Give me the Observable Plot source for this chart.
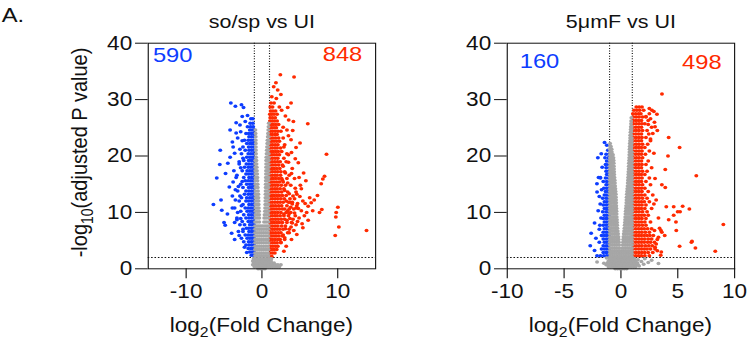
<!DOCTYPE html>
<html><head><meta charset="utf-8">
<script src="https://cdn.jsdelivr.net/npm/d3@7"></script>
<script src="https://cdn.jsdelivr.net/npm/@observablehq/plot@0.6"></script>
<style>
html,body{margin:0;padding:0;background:#fff;overflow:hidden;width:747px;height:346px;}
#wrap{position:absolute;left:0;top:0;width:661px;height:346px;transform:scaleX(1.13);transform-origin:0 0;}
</style></head><body><div id="wrap"></div>
<script>
// ---------- data ----------
const titles = ["so/sp vs UI", "5\u03bcmF vs UI"];
const soCounts = [590, 848];
const fmCounts = [160, 498];
const soTicksX = [-10, 0, 10];
const fmTicksX = [-10, -5, 0, 5, 10];
const ticksY = [0, 10, 20, 30, 40];
const soDomainX = [-15, 15];
const fmDomainX = [-10, 10];
const domainY = [0, 40];
const fcCut = [-1, 1];
const pCut = [2];

// rows: [y, x1, x2, ...]   pts: [x, y]
const soRedRows = [
[2.2,1.05,1.3],[2.8,1.1,1.4,1.7],[3.4,1.05,1.3,1.6,1.95],[4.0,1.15,1.45,1.8,2.1],
[4.6,1.05,1.35,1.65,2.0,2.5],[5.2,1.1,1.4,1.75,2.1,2.4,3.0],[5.8,1.05,1.3,1.6,1.9,2.25,2.7],
[6.4,1.15,1.45,1.8,2.15,2.5,3.4],[7.0,1.05,1.35,1.65,2.0,2.35,2.8,3.6],[7.6,1.1,1.4,1.75,2.1,2.6,3.1],
[8.2,1.05,1.3,1.6,1.95,2.3,2.7,3.3,3.9],[8.8,1.15,1.45,1.8,2.15,2.55,3.0,4.1],
[9.4,1.05,1.35,1.7,2.0,2.4,2.9,3.5,4.4],[10.0,1.1,1.4,1.75,2.1,2.5,3.2,3.8],
[10.6,1.05,1.3,1.6,1.95,2.3,2.7,3.0,3.6,4.2],[11.2,1.15,1.45,1.8,2.2,2.6,3.3,4.6],
[11.8,1.05,1.35,1.7,2.05,2.4,2.8,3.5,4.0],[12.4,1.1,1.4,1.75,2.1,2.5,2.95,3.7,4.3],
[13.0,1.05,1.3,1.6,1.95,2.3,2.7,3.2],[13.6,1.15,1.45,1.8,2.15,2.6,3.4,4.5],
[14.2,1.05,1.35,1.7,2.0,2.4,2.9],[14.8,1.1,1.4,1.75,2.1,2.55,3.1,3.8],
[15.4,1.05,1.3,1.6,1.95,2.3,2.8],[16.0,1.15,1.45,1.8,2.2,2.6,3.3],
[16.6,1.05,1.35,1.7,2.0,2.45,3.6],[17.2,1.1,1.4,1.75,2.1,2.5,3.0],
[17.8,1.05,1.3,1.6,1.95,2.35,4.0],[18.4,1.15,1.45,1.8,2.2,2.7],
[19.0,1.05,1.35,1.7,2.05,2.4,3.2],[19.6,1.1,1.4,1.75,2.1,2.9],
[20.2,1.05,1.3,1.6,1.95,2.3,3.5],[20.8,1.15,1.45,1.8,2.15,2.6],
[21.4,1.05,1.35,1.7,2.0,2.45],[22.0,1.1,1.4,1.75,2.1,3.0],
[22.6,1.05,1.3,1.6,1.95,2.3],[23.2,1.15,1.45,1.8,2.2,2.8],
[23.8,1.05,1.35,1.7,2.0],[24.4,1.1,1.4,1.75,2.1,2.5],
[25.0,1.05,1.3,1.6,1.9],[25.6,1.15,1.45,1.8,2.2],[26.2,1.05,1.35,1.65,2.0],
[26.8,1.1,1.4,1.75],[27.4,1.05,1.3,1.6,2.0],[28.0,1.15,1.45,1.8],[28.7,1.1,1.4,2.3],[29.4,1.2,1.6]
];
const soRedPts = [
[2.43,34.4],[4.24,34.0],[1.85,33.0],[1.55,32.3],[2.08,31.7],[2.5,30.9],[1.3,30.5],[1.9,30.2],
[3.84,29.4],[3.4,28.6],[3.53,26.4],[4.15,26.1],[6.05,25.7],[3.3,24.6],[4.06,24.5],[3.84,22.9],
[5.03,22.3],[4.5,21.5],[8.52,20.3],[8.26,16.4],[8.04,15.9],[7.82,15.1],[5.07,14.8],[5.2,14.2],
[7.33,13.0],[6.3,12.6],[6.5,11.7],[6.1,11.1],[10.02,10.9],[7.9,10.5],[5.2,10.3],[6.7,10.3],
[7.6,10.0],[9.8,10.0],[5.6,9.4],[9.75,9.2],[4.7,8.4],[4.5,7.8],[3.84,7.4],[10.15,7.4],
[13.8,6.8],[3.6,6.4],[9.67,5.9],[3.0,5.5],[2.5,4.7],
[4.8,18.8],[5.5,17.0],[4.3,16.0],[5.8,15.6],[4.6,13.2],[5.4,12.0],[4.0,11.5],[3.6,9.8],
[4.9,9.0],[3.3,8.6],[5.3,8.0],[4.2,6.8],[3.2,4.0],[2.9,3.1],[4.4,19.5],[3.9,20.6],[4.7,11.6],[6.9,12.2],
[2.8,18.2],[3.1,17.0],[2.7,15.7],[3.4,15.2],[3.0,13.9],[3.6,13.3],[3.2,12.0],[4.1,12.9],
[3.8,10.9],[3.4,10.3],[4.3,9.9],[2.9,9.7],[3.7,8.9],[4.0,8.1],[3.1,7.1],[2.8,6.0],
[4.9,16.2],[4.4,14.3],[5.0,12.8],[5.7,11.6],[4.8,10.7],[5.9,10.0],[6.1,8.6],[5.4,7.3],
[4.6,6.1],[3.9,5.2],[3.5,18.9],[3.9,16.9],[3.3,20.4],[2.9,21.6],[3.5,23.6],[2.8,25.1],
[3.1,27.1],[2.6,28.1],[3.7,11.8],[4.5,10.8]
];
const soBlueRows = [
[2.4,-1.1,-1.4],[3.0,-1.05,-1.3,-1.6],[3.6,-1.15,-1.45,-1.8],[4.2,-1.05,-1.35,-1.7,-2.1],
[4.8,-1.1,-1.4,-1.75,-2.4],[5.4,-1.05,-1.3,-1.6,-1.95,-2.7],[6.0,-1.15,-1.45,-1.8,-2.2],
[6.6,-1.05,-1.35,-1.7,-2.5,-3.1],[7.2,-1.1,-1.4,-1.75,-2.05],[7.8,-1.05,-1.3,-1.6,-2.3,-2.9],
[8.4,-1.15,-1.45,-1.8,-2.6],[9.0,-1.05,-1.35,-1.7,-2.1,-3.3],[9.6,-1.1,-1.4,-1.75,-2.4],
[10.2,-1.05,-1.3,-1.6,-1.95,-2.8],[10.8,-1.15,-1.45,-1.8,-2.2,-3.6],[11.4,-1.05,-1.35,-1.7,-2.5],
[12.0,-1.1,-1.4,-1.75,-2.1,-3.0],[12.6,-1.05,-1.3,-1.6,-2.0,-2.7],[13.2,-1.15,-1.45,-1.8,-2.3],
[13.8,-1.05,-1.35,-1.7,-2.1,-3.2],[14.4,-1.1,-1.4,-1.75,-2.5],[15.0,-1.05,-1.3,-1.6,-2.0,-2.8],
[15.6,-1.15,-1.45,-1.8,-2.2],[16.2,-1.05,-1.35,-1.7,-2.4,-3.4],[16.8,-1.1,-1.4,-1.75,-2.1],
[17.4,-1.05,-1.3,-1.6,-1.95,-2.6],[18.0,-1.15,-1.45,-1.8,-2.3],[18.6,-1.05,-1.35,-1.7,-2.05,-3.0],
[19.2,-1.1,-1.4,-1.75,-2.4],[19.8,-1.05,-1.3,-1.6,-2.0],[20.4,-1.15,-1.45,-1.8,-2.7],
[21.0,-1.05,-1.35,-1.7,-2.2],[21.6,-1.1,-1.4,-1.75,-2.5],[22.2,-1.05,-1.3,-1.6,-2.0],
[22.8,-1.15,-1.45,-1.8,-2.3],[23.4,-1.05,-1.35,-1.7],[24.0,-1.1,-1.4,-1.75,-2.1],
[24.6,-1.05,-1.3,-1.6],[25.2,-1.15,-1.5,-1.9],[25.8,-1.2,-1.55],[26.6,-1.2,-1.45]
];
const soBluePts = [
[-4.1,29.4],[-3.5,28.8],[-2.7,29.1],[-2.43,28.6],[-4.2,24.6],[-3.4,25.9],[-2.9,25.5],[-5.5,21.0],
[-5.56,18.5],[-5.96,16.1],[-6.4,11.4],[-5.4,12.2],[-5.3,10.4],[-5.0,8.2],[-4.85,7.7],[-4.55,9.7],
[-4.8,16.9],[-3.7,17.4],[-3.9,22.5],[-3.8,21.6],[-4.3,14.5],[-3.9,12.9],[-4.2,19.8],[-3.6,20.5],
[-3.2,23.2],[-2.8,24.3],[-4.0,6.3],[-3.6,5.2],[-3.3,8.7],[-3.9,10.8],[-3.5,14.0],[-3.0,19.0],[-2.6,27.0],
[-2.6,22.7],[-2.9,21.2],[-2.5,19.6],[-2.8,17.9],[-3.3,16.6],[-2.6,15.5],[-3.1,14.6],[-2.9,12.9],
[-3.5,12.2],[-2.7,11.2],[-3.2,10.0],[-2.8,8.9],[-3.6,8.2],[-2.5,7.0],[-3.0,5.9],[-2.3,3.8],
[-2.0,2.9],[-3.8,15.4],[-4.5,18.7],[-3.4,24.1],[-2.2,26.1],[-1.9,27.2]
];
const soGrayRows = [
[0.0,-0.5,-0.2,0.1,0.4],
[0.35,-1.0,-0.7,-0.4,-0.1,0.2,0.5,0.8,1.1,1.4,1.7,2.0,2.3],
[0.7,-1.2,-0.9,-0.6,-0.3,0,0.3,0.6,0.9,1.2,1.5,1.8,2.1,2.5],
[1.05,-1.1,-0.8,-0.5,-0.2,0.1,0.4,0.7,1.0,1.3,1.6],
[1.4,-1.2,-0.9,-0.6,-0.3,0,0.3,0.6,0.9,1.2],
[1.8,-1.1,-0.8,-0.5,-0.2,0.1,0.4,0.7,1.0,1.25],
[2.3,-0.9,-0.62,-0.34,-0.05,0.25,0.55,0.85],
[2.8,-0.9,-0.65,-0.38,-0.1,0.2,0.5,0.8],
[3.4,-0.9,-0.62,-0.34,-0.05,0.25,0.55,0.85],
[4.0,-0.9,-0.65,-0.38,-0.1,0.2,0.5,0.8],
[4.6,-0.9,-0.62,-0.34,-0.05,0.25,0.55,0.85],
[5.2,-0.9,-0.65,-0.38,-0.1,0.2,0.5,0.8],
[5.8,-0.9,-0.62,-0.34,-0.05,0.25,0.55,0.85],
[6.4,-0.9,-0.65,-0.38,-0.1,0.2,0.5,0.8],
[7.0,-0.9,-0.62,-0.34,-0.05,0.25,0.55,0.85],
[7.6,-0.9,-0.65,-0.4,-0.15,0.12,0.4,0.65,0.87],
[8.3,-0.9,-0.65,-0.35,0.28,0.55,0.85],
[9.0,-0.85,-0.6,-0.35,0.3,0.55,0.85],
[9.6,-0.85,-0.6,-0.37,0.35,0.6,0.85],
[10.2,-0.85,-0.6,-0.38,0.4,0.62,0.85],
[10.8,-0.85,-0.62,-0.41,0.42,0.64,0.85],
[11.4,-0.85,-0.63,-0.43,0.44,0.65,0.85],
[12.0,-0.85,-0.64,-0.44,0.45,0.66,0.85],
[12.6,-0.85,-0.66,-0.46,0.46,0.66,0.85],
[13.2,-0.85,-0.67,-0.47,0.47,0.67,0.85],
[13.8,-0.85,-0.52,0.48,0.68,0.86],
[14.4,-0.85,-0.55,0.49,0.68,0.86],
[15.0,-0.86,-0.57,0.5,0.7,0.87],
[15.6,-0.86,-0.59,0.51,0.7,0.87],
[16.2,-0.86,-0.6,0.52,0.72,0.87],
[16.8,-0.86,-0.63,0.53,0.72,0.88],
[17.4,-0.87,-0.66,0.54,0.74,0.88],
[18.0,-0.87,-0.68,0.55,0.75,0.89],
[18.6,-0.88,-0.71,0.56,0.76,0.89],
[19.2,-0.88,-0.73,0.56,0.77,0.9],
[19.8,-0.77,0.58,0.78,0.9],
[20.4,-0.78,0.61,0.8,0.9],
[21.0,-0.79,0.64,0.82],
[21.6,-0.8,0.67,0.84],
[22.2,-0.8,0.7,0.86],
[22.8,-0.81,0.73,0.88],
[23.4,-0.82,0.77,0.9],
[24.0,-0.84,0.8],
[24.6,-0.86,0.84],
[25.2,0.87],[25.8,0.9]
];

const fmRedRows = [
[2.3,1.05,1.3,1.55,1.8,2.1,2.5],[2.9,1.1,1.35,1.6,1.85,2.1,2.4,2.8],
[3.5,1.05,1.3,1.55,1.8,2.05,2.3,2.6,3.0],[4.1,1.1,1.35,1.6,1.85,2.15,2.45,2.75],
[4.7,1.05,1.3,1.55,1.8,2.05,2.35,2.6,2.95],[5.3,1.1,1.35,1.6,1.85,2.1,2.4,2.7],
[5.9,1.05,1.3,1.55,1.8,2.05,2.3,2.55,2.85],[6.5,1.1,1.35,1.6,1.85,2.15,2.5],
[7.1,1.05,1.3,1.55,1.8,2.05,2.35,2.7],[7.7,1.1,1.35,1.6,1.9,2.2],
[8.3,1.05,1.3,1.55,1.8,2.1,2.6],[8.9,1.1,1.35,1.6,1.85,2.2],
[9.5,1.05,1.3,1.55,1.8,2.05,2.4],[10.1,1.1,1.35,1.6,1.9,2.3],
[10.7,1.05,1.3,1.55,1.8,2.1,2.7],[11.3,1.1,1.35,1.6,1.85,2.2],
[11.9,1.05,1.3,1.55,1.8,2.05,2.5],[12.5,1.1,1.35,1.6,1.9,2.3],
[13.1,1.05,1.3,1.55,1.8,2.1,2.8],[13.7,1.1,1.35,1.6,1.85,2.4],
[14.3,1.05,1.3,1.55,1.8,2.1],[14.9,1.1,1.35,1.6,1.9,2.6],
[15.5,1.05,1.3,1.55,1.8,2.2],[16.1,1.1,1.35,1.6,1.85,2.5],
[16.7,1.05,1.3,1.55,1.8,2.1],[17.3,1.1,1.35,1.6,1.9,2.3],
[17.9,1.05,1.3,1.55,1.8,2.7],[18.5,1.1,1.35,1.6,1.85,2.2],
[19.1,1.05,1.3,1.55,1.8,2.4],[19.7,1.1,1.35,1.6,1.9],
[20.3,1.05,1.3,1.55,1.8,2.15],[20.9,1.1,1.35,1.6,1.85,2.5],
[21.5,1.05,1.3,1.55,1.8,2.1],[22.1,1.1,1.35,1.6,1.9,2.35],
[22.7,1.05,1.3,1.55,1.8,2.6],[23.3,1.1,1.35,1.6,1.85,2.2],
[23.9,1.05,1.3,1.55,1.8,2.45],[24.5,1.1,1.35,1.6,1.9,2.3],
[25.1,1.05,1.3,1.55,1.8,2.7],[25.7,1.1,1.35,1.6,1.85,2.1],
[26.3,1.05,1.3,1.55,1.8,2.4],[26.9,1.1,1.35,1.6,1.9,2.2],
[27.5,1.05,1.3,1.55,1.75,2.5],[28.1,1.15,1.4,1.65,2.0],[28.7,1.35,1.6,1.85]
];
const fmRedPts = [
[3.61,31.0],[2.73,28.1],[3.17,27.4],[4.2,23.3],[5.16,21.5],[4.14,20.0],[3.9,17.6],[6.63,16.5],
[3.6,14.9],[3.9,14.4],[3.1,12.2],[3.99,11.0],[4.64,11.0],[5.43,11.1],[6.02,10.6],[5.2,10.1],
[4.99,10.1],[4.64,9.5],[4.2,8.7],[4.84,8.3],[9.01,7.85],[3.85,5.9],[5.16,4.0],[6.2,4.7],
[6.55,3.7],[8.3,3.1],[3.55,3.0],[3.3,9.0],[3.0,16.0],[2.9,20.5],[3.2,24.5],[2.95,26.0],
[3.4,7.2],[3.6,6.5],[2.9,11.5],[3.2,5.2],[3.0,3.8],[3.5,2.4],[4.87,6.8],[3.52,6.8],[6.25,4.9],
[2.5,28.4],[2.9,27.9],[2.6,26.6],[3.0,25.2],[2.8,24.0],[2.6,23.0],[2.2,27.0],[2.4,25.6],
[3.1,4.4],[3.3,5.6],[2.95,6.8],[3.2,3.2]
];
const fmBlueRows = [
[2.3,-1.05,-1.25,-1.5,-1.8,-2.1],[2.9,-1.1,-1.3,-1.55],[3.5,-1.05,-1.25,-1.45,-1.7],
[4.1,-1.1,-1.3,-1.55],[4.7,-1.05,-1.25,-1.45,-1.9],[5.3,-1.1,-1.3,-1.55],
[5.9,-1.05,-1.25,-1.45,-1.7],[6.5,-1.1,-1.3,-1.55],[7.1,-1.05,-1.25,-1.45],
[7.7,-1.1,-1.3,-1.55,-1.85],[8.3,-1.05,-1.25,-1.45],[8.9,-1.1,-1.3,-1.55],
[9.5,-1.05,-1.25,-1.45],[10.1,-1.1,-1.3,-1.6],[10.7,-1.05,-1.25,-1.45],
[11.3,-1.1,-1.3,-1.55],[11.9,-1.05,-1.25,-1.45],[12.5,-1.1,-1.3,-1.6],
[13.1,-1.05,-1.25,-1.45],[13.7,-1.1,-1.35],[14.3,-1.05,-1.25,-1.5],[14.9,-1.1,-1.3],
[15.5,-1.05,-1.25,-1.55],[16.1,-1.1,-1.35,-1.8],[16.7,-1.05,-1.25],[17.3,-1.1,-1.3],
[17.9,-1.05,-1.3],[18.5,-1.1,-1.35],[19.1,-1.05,-1.25],[19.7,-1.1,-1.4],[20.3,-1.05,-1.3],[21.0,-1.15]
];
const fmBluePts = [
[-1.44,22.4],[-1.24,21.9],[-2.03,19.7],[-1.73,20.4],[-1.97,16.2],[-1.82,16.2],[-2.11,15.1],
[-1.82,11.5],[-2.32,8.1],[-2.62,6.3],[-2.7,4.1],[-2.32,3.26],[-1.9,12.8],[-2.0,10.3],
[-1.75,9.0],[-2.2,5.4],[-1.9,7.0],[-1.7,14.0],[-1.65,18.0],[-2.1,13.6]
];
const fmGrayRows = [
[0.0,-0.5,-0.3,-0.1,0.1,0.3,0.5],
[0.35,-1.1,-0.9,-0.7,-0.5,-0.3,-0.1,0.1,0.3,0.5,0.7,0.9,1.1,1.3],
[0.7,-1.3,-1.1,-0.9,-0.7,-0.5,-0.3,-0.1,0.1,0.3,0.5,0.7,0.9,1.1,1.3,1.5],
[1.05,-1.2,-1.0,-0.8,-0.6,-0.4,-0.2,0,0.2,0.4,0.6,0.8,1.0,1.2,1.45],
[1.4,-1.1,-0.9,-0.7,-0.5,-0.3,-0.1,0.1,0.3,0.5,0.7,0.9,1.1,1.3],
[1.8,-1.0,-0.8,-0.6,-0.4,-0.2,0,0.2,0.4,0.6,0.8,1.0,1.2],
[2.2,-0.95,-0.75,-0.55,-0.35,-0.15,0.05,0.25,0.45,0.65,0.85,0.97],
[2.7,-0.97,-0.77,-0.57,-0.37,-0.17,0.03,0.23,0.43,0.63,0.83,0.97],
[3.2,-0.97,-0.77,-0.57,-0.37,-0.17,0.03,0.23,0.43,0.63,0.83,0.97],
[3.7,-0.97,-0.77,-0.57,-0.37,-0.15,0.15,0.37,0.57,0.77,0.97],
[4.2,-0.97,-0.77,-0.57,-0.37,-0.16,0.16,0.36,0.56,0.76,0.97],
[4.7,-0.97,-0.77,-0.57,-0.37,-0.18,0.18,0.38,0.58,0.78,0.97],
[5.2,-0.97,-0.77,-0.57,-0.37,-0.2,0.2,0.4,0.6,0.8,0.97],
[5.7,-0.97,-0.77,-0.57,-0.38,-0.22,0.22,0.4,0.6,0.8,0.97],
[6.2,-0.97,-0.77,-0.57,-0.4,-0.25,0.25,0.42,0.6,0.8,0.97],
[6.7,-0.97,-0.77,-0.57,-0.42,-0.28,0.28,0.45,0.62,0.8,0.97],
[7.2,-0.97,-0.8,-0.62,-0.45,-0.31,0.31,0.47,0.64,0.8,0.97],
[7.7,-0.97,-0.8,-0.62,-0.46,-0.33,0.33,0.5,0.66,0.82,0.97],
[8.2,-0.97,-0.8,-0.63,-0.47,-0.34,0.35,0.5,0.66,0.82,0.97],
[8.7,-0.97,-0.8,-0.63,-0.48,-0.35,0.37,0.52,0.67,0.82,0.97],
[9.2,-0.97,-0.8,-0.64,-0.5,-0.37,0.38,0.53,0.68,0.83,0.97],
[9.7,-0.97,-0.8,-0.64,-0.5,-0.38,0.4,0.55,0.7,0.84,0.97],
[10.2,-0.97,-0.81,-0.65,-0.5,-0.39,0.42,0.56,0.7,0.84,0.97],
[10.7,-0.97,-0.81,-0.65,-0.52,-0.4,0.44,0.58,0.72,0.85,0.97],
[11.2,-0.97,-0.82,-0.67,-0.53,-0.41,0.46,0.6,0.73,0.86,0.97],
[11.7,-0.97,-0.82,-0.67,-0.53,-0.42,0.48,0.61,0.74,0.86,0.97],
[12.2,-0.97,-0.82,-0.68,-0.55,-0.43,0.49,0.62,0.75,0.87,0.97],
[12.7,-0.97,-0.83,-0.69,-0.56,-0.44,0.5,0.63,0.75,0.87,0.97],
[13.2,-0.97,-0.83,-0.69,-0.56,-0.45,0.52,0.64,0.76,0.88,0.97],
[13.7,-0.97,-0.83,-0.7,-0.57,-0.47,0.54,0.66,0.78,0.88,0.97],
[14.2,-0.97,-0.84,-0.7,-0.58,-0.49,0.56,0.67,0.78,0.89,0.97],
[14.7,-0.97,-0.84,-0.71,-0.59,-0.51,0.58,0.69,0.79,0.89,0.97],
[15.2,-0.97,-0.84,-0.72,-0.6,-0.53,0.6,0.7,0.8,0.9,0.97],
[15.7,-0.97,-0.84,-0.7,-0.55,0.62,0.74,0.86,0.97],
[16.2,-0.97,-0.85,-0.71,-0.57,0.63,0.75,0.87,0.97],
[16.7,-0.97,-0.85,-0.72,-0.59,0.65,0.76,0.87,0.97],
[17.2,-0.97,-0.85,-0.73,-0.6,0.66,0.77,0.88,0.97],
[17.7,-0.97,-0.86,-0.74,-0.61,0.68,0.78,0.88,0.97],
[18.2,-0.97,-0.86,-0.75,-0.62,0.69,0.79,0.89,0.97],
[18.7,-0.97,-0.86,-0.75,-0.63,0.7,0.8,0.89,0.97],
[19.2,-0.97,-0.87,-0.76,-0.64,0.72,0.81,0.9,0.97],
[19.7,-0.97,-0.87,-0.77,-0.66,0.73,0.82,0.9,0.97],
[20.2,-0.97,-0.87,-0.78,-0.7,0.74,0.83,0.91,0.97],
[20.7,-0.97,-0.88,-0.8,0.75,0.84,0.92,0.97],
[21.2,-0.97,-0.88,-0.82,0.76,0.85,0.92],
[21.7,-0.96,-0.88,0.77,0.86,0.94],
[22.2,-0.95,0.78,0.87,0.95],
[22.7,0.8,0.88,0.95],[23.2,0.81,0.89,0.96],[23.7,0.82,0.9],[24.2,0.84,0.92],
[24.7,0.86,0.93],[25.2,0.87,0.94],[25.7,0.89],[26.2,0.9],[26.8,0.92]
];
const fmGrayPts = [
[-2.1,1.2],[-1.25,1.9],[-1.5,1.0],[1.5,1.6],[1.8,1.3],[2.1,1.8],[2.4,1.1],[2.7,1.5],
[3.3,0.95],[1.6,0.5],[2.0,0.8]
];

// ---------- drawing ----------
const RED = "#ff2a00", BLUE = "#0d3dff", GRAY = "#a6a6a6";
const FONT = "'Liberation Sans', Arial, Helvetica, sans-serif";
const fromRows = rows => rows.flatMap(([y, ...xs]) => xs.map(x => ({x, y})));
const fromPairs = p => p.map(([x, y]) => ({x, y}));

function panel(o) {
  const dotOpts = (fill) => ({x: "x", y: "y", r: 1.75, fill});
  const svg = Plot.plot({
    width: o.width, height: 346,
    marginLeft: o.mL, marginRight: o.mR, marginTop: 42.7, marginBottom: 77.7,
    style: {fontFamily: FONT, fontSize: "20px", color: "#111", background: "transparent", overflow: "visible"},
    x: {domain: o.xDomain, ticks: o.xTicks, tickSize: 10, tickPadding: 4.5, tickFormat: d => String(d), label: null},
    y: {domain: domainY, ticks: ticksY, tickSize: 11.2, tickPadding: 3, tickFormat: d => String(d), label: null},
    marks: [
      Plot.ruleX(fcCut, {stroke: "#111", strokeWidth: 1, strokeDasharray: "1,1.6"}),
      Plot.ruleY(pCut, {stroke: "#111", strokeWidth: 1, strokeDasharray: "1.4,1.6"}),
      Plot.dot(o.blue, dotOpts(BLUE)),
      Plot.dot(o.red, dotOpts(RED)),
      Plot.dot(o.gray, dotOpts(GRAY)),
      Plot.frame({stroke: "#111", strokeWidth: 1}),
      Plot.text([o.title], {frameAnchor: "top", dy: -15.4, lineAnchor: "bottom", fontSize: 19, text: d => d, fill: "#111"}),
      Plot.text([o.counts[0]], {frameAnchor: "top-left", dx: o.cL[0], dy: o.cL[1], lineAnchor: "bottom", textAnchor: "start", fontSize: 21, fill: BLUE, text: d => String(d)}),
      Plot.text([o.counts[1]], {frameAnchor: "top-right", dx: o.cR[0], dy: o.cR[1], lineAnchor: "bottom", textAnchor: "end", fontSize: 21, fill: RED, text: d => String(d)})
    ]
  });
  svg.style.position = "absolute";
  svg.style.left = o.left + "px";
  svg.style.top = "0px";
  const s = d3.select(svg);
  const cx = o.mL + (o.width - o.mL - o.mR) / 2;
  const xl = s.append("text").attr("x", cx).attr("y", 332.5).attr("text-anchor", "middle")
    .attr("font-family", FONT).attr("font-size", 20).attr("fill", "#111");
  xl.append("tspan").text("log");
  xl.append("tspan").attr("font-size", 14).attr("dy", 5).text("2");
  xl.append("tspan").attr("dy", -5).text("(Fold Change)");
  if (o.yLabel) {
    const yl = s.append("text").attr("transform", "translate(77.3,152.5) rotate(-90)").attr("text-anchor", "middle")
      .attr("font-family", FONT).attr("font-size", 20).attr("fill", "#111");
    yl.append("tspan").text("-log");
    yl.append("tspan").attr("font-size", 14).attr("dy", 5).text("10");
    yl.append("tspan").attr("dy", -5).text("(adjusted P value)");
    s.append("text").attr("x", 11.5).attr("y", 22.5).attr("font-family", FONT).attr("font-size", 21)
      .attr("fill", "#111").text("A.");
  }
  document.getElementById("wrap").appendChild(svg);
}

panel({left: 0, width: 340, mL: 130.7, mR: 8.1, xDomain: soDomainX, xTicks: soTicksX, title: titles[0],
  counts: soCounts, cL: [4.1, 18.3], cR: [-11.8, 17.8], yLabel: true,
  red: fromRows(soRedRows).concat(fromPairs(soRedPts)),
  blue: fromRows(soBlueRows).concat(fromPairs(soBluePts)),
  gray: fromRows(soGrayRows)});
panel({left: 340, width: 321, mL: 108.4, mR: 11.4, xDomain: fmDomainX, xTicks: fmTicksX, title: titles[1],
  counts: fmCounts, cL: [11, 24.8], cR: [-11.5, 25.3], yLabel: false,
  red: fromRows(fmRedRows).concat(fromPairs(fmRedPts)),
  blue: fromRows(fmBlueRows).concat(fromPairs(fmBluePts)),
  gray: fromRows(fmGrayRows).concat(fromPairs(fmGrayPts))});
</script></body></html>
